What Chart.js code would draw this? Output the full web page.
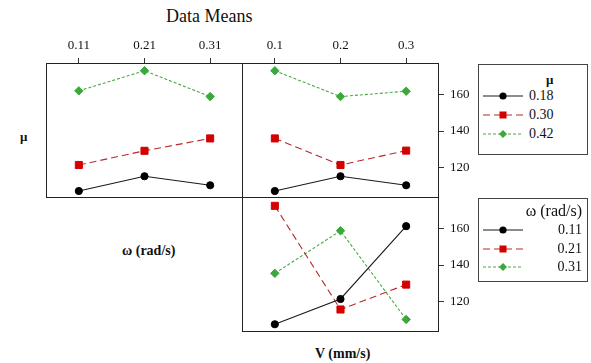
<!DOCTYPE html>
<html>
<head>
<meta charset="utf-8">
<script src="https://cdn.jsdelivr.net/npm/chart.js@4.4.1/dist/chart.umd.min.js"></script>
<style>
  body { margin: 0; background: #fff; font-family: "Liberation Serif", "DejaVu Serif", serif; color: #111; }
  #wrap { position: relative; width: 591px; height: 363px; overflow: hidden; }
  #wrap canvas { position: absolute; }
  .txt { position: absolute; white-space: nowrap; line-height: 1; }
  .b { font-weight: bold; }
  .legend { position: absolute; border: 1px solid #444; box-sizing: border-box; background: #fff; }
  .row { position: absolute; left: 0; right: 0; height: 16px; }
  .row svg { position: absolute; left: 4px; top: 0; }
  .row span { position: absolute; top: 1px; font-size: 14px; line-height: 1; }
</style>
</head>
<body>
<div id="wrap">
  <div class="txt" style="left:166px; top:7px; font-size:18px;">Data Means</div>
  <div class="txt b" style="left:20px; top:130px; font-size:13px;">μ</div>
  <div class="txt b" style="left:122px; top:244px; font-size:14px;">ω (rad/s)</div>
  <div class="txt b" style="left:315px; top:347px; font-size:14px;">V (mm/s)</div>

  <canvas id="cMuOmega" width="197" height="163" style="left:46px; top:35px;"></canvas>
  <canvas id="cMuV" width="240" height="163" style="left:242px; top:35px;"></canvas>
  <canvas id="cOmegaV" width="240" height="135" style="left:242px; top:197px;"></canvas>

  <div class="legend" id="legMu" style="left:478px; top:64px; width:110px; height:91px;"></div>
  <div class="legend" id="legOmega" style="left:478px; top:198px; width:110px; height:84px;"></div>
</div>

<script>
// tick labels / categories
const omegaTicks = ['0.11', '0.21', '0.31'];
const vTicks = ['0.1', '0.2', '0.3'];
const yTicks = [120, 140, 160];
const muLevels = ['0.18', '0.30', '0.42'];
const omegaLevels = ['0.11', '0.21', '0.31'];

// μ panel, x = ω
const muOmega018 = [107.5, 115.5, 110.6];
const muOmega030 = [121.6, 129.3, 136.0];
const muOmega042 = [161.8, 172.7, 158.7];

// μ panel, x = V
const muV018 = [107.5, 115.5, 110.6];
const muV030 = [136.0, 121.6, 129.4];
const muV042 = [172.7, 158.7, 161.6];

// ω panel, x = V
const omegaV011 = [107.9, 121.6, 161.1];
const omegaV021 = [172.1, 115.9, 129.4];
const omegaV031 = [135.5, 158.6, 110.5];

const Y_MIN = 103.7, Y_MAX = 176.9;
const FONT = '"Liberation Serif", serif';

const STYLES = [
  { line: '#1a1a1a', mark: '#000000', dash: [], point: 'circle', r: 3.6 },
  { line: '#b8282a', mark: '#d40000', dash: [7, 4], point: 'rect', r: 5 },
  { line: '#4aa84a', mark: '#3aa83a', dash: [3, 2], point: 'rectRot', r: 4.2 },
];

function makeSets(names, lists) {
  return lists.map((d, i) => ({
    label: names[i],
    data: d,
    borderColor: STYLES[i].line,
    borderWidth: 1.1,
    borderDash: STYLES[i].dash,
    pointStyle: STYLES[i].point,
    pointRadius: STYLES[i].r,
    pointBackgroundColor: STYLES[i].mark,
    pointBorderColor: STYLES[i].mark,
    pointBorderWidth: 1,
    tension: 0,
    fill: false,
  }));
}

// panel frame around the plot area
const frame = {
  id: 'frame',
  afterDraw(chart) {
    const { ctx, chartArea: a } = chart;
    ctx.save();
    ctx.strokeStyle = '#222';
    ctx.lineWidth = 1;
    ctx.strokeRect(a.left + 0.5, a.top + 0.5, a.right - a.left - 1, a.bottom - a.top - 1);
    ctx.restore();
  },
};

function noPad(s) {
  s.paddingTop = 0; s.paddingBottom = 0; s.paddingLeft = 0; s.paddingRight = 0;
}

function panel(id, labels, datasets, showX, showY) {
  return new Chart(document.getElementById(id), {
    type: 'line',
    data: { labels, datasets },
    plugins: [frame],
    options: {
      responsive: false,
      animation: false,
      layout: { padding: 0, autoPadding: false },
      plugins: { legend: { display: false }, tooltip: { enabled: false } },
      scales: {
        x: {
          display: showX,
          position: 'top',
          offset: true,
          border: { display: false },
          grid: { drawOnChartArea: false, drawTicks: true, tickLength: 5, color: '#333' },
          ticks: { font: { family: FONT, size: 13 }, color: '#111', padding: 5, maxRotation: 0 },
          afterFit: s => { s.height = showX ? 28 : 0; noPad(s); },
        },
        y: {
          display: showY,
          position: 'right',
          min: Y_MIN,
          max: Y_MAX,
          border: { display: false },
          grid: { drawOnChartArea: false, drawTicks: true, tickLength: 5, color: '#333' },
          ticks: { font: { family: FONT, size: 13 }, color: '#111', padding: 6 },
          afterBuildTicks: s => { s.ticks = yTicks.map(v => ({ value: v })); },
          afterFit: s => { s.width = showY ? 43 : 0; noPad(s); },
        },
      },
    },
  });
}

panel('cMuOmega', omegaTicks, makeSets(muLevels, [muOmega018, muOmega030, muOmega042]), true, false);
panel('cMuV', vTicks, makeSets(muLevels, [muV018, muV030, muV042]), true, true);
panel('cOmegaV', vTicks, makeSets(omegaLevels, [omegaV011, omegaV021, omegaV031]), false, true);

// legends
function sample(i) {
  const s = STYLES[i];
  const dash = s.dash.length ? `stroke-dasharray="${s.dash.join(',')}"` : '';
  let m;
  if (s.point === 'circle') m = `<circle cx="20" cy="8" r="3.6" fill="${s.mark}"/>`;
  else if (s.point === 'rect') m = `<rect x="16.5" y="4.5" width="7" height="7" fill="${s.mark}"/>`;
  else m = `<polygon points="20,4 24,8 20,12 16,8" fill="${s.mark}"/>`;
  return `<svg width="42" height="16"><line x1="0" y1="8" x2="40" y2="8" stroke="${s.line}" stroke-width="1.1" ${dash}/>${m}</svg>`;
}

function buildLegend(id, title, titleStyle, names, alignRight, rowTops) {
  const el = document.getElementById(id);
  let html = `<div class="txt" style="${titleStyle}">${title}</div>`;
  names.forEach((n, i) => {
    const pos = alignRight ? 'right:5px;' : 'left:50px;';
    html += `<div class="row" style="top:${rowTops[i]}px">${sample(i)}<span style="${pos}">${n}</span></div>`;
  });
  el.innerHTML = html;
}

buildLegend('legMu', 'μ', 'left:67px; top:8px; font-size:13px; font-weight:bold;', muLevels, false, [23, 42, 61]);
buildLegend('legOmega', 'ω (rad/s)', 'right:5px; top:4px; font-size:16px;', omegaLevels, true, [23, 42, 60]);
</script>
</body>
</html>
